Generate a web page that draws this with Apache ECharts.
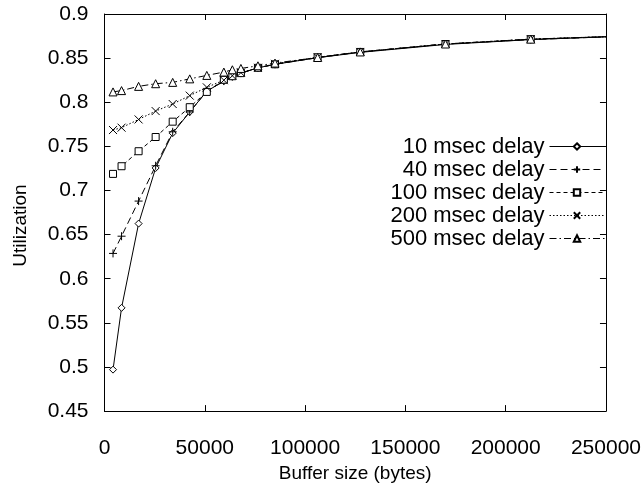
<!DOCTYPE html>
<html>
<head>
<meta charset="utf-8">
<script src="https://cdn.jsdelivr.net/npm/echarts@6/dist/echarts.min.js"></script>
<style>
html,body{margin:0;padding:0;background:#fff;}
#c{width:644px;height:488px;}
</style>
</head>
<body>
<div id="c"></div>
<script>
// Buffer sizes (bytes)
var bufferSizes = [4250, 8500, 17000, 25500, 34000, 42500, 51000, 59500, 63750, 68000, 76500, 85000, 106250, 127500, 170000, 212500, 255000];
var seriesNames = ['10 msec delay', '40 msec delay', '100 msec delay', '200 msec delay', '500 msec delay'];
var util10  = [0.497, 0.567, 0.6625, 0.7255, 0.765, 0.789, 0.8125, 0.824, 0.829, 0.833, 0.839, 0.843, 0.8505, 0.8565, 0.8655, 0.871, 0.8745];
var util40  = [0.6287, 0.6482, 0.688, 0.728, 0.7665, 0.789, 0.8125, 0.824, 0.829, 0.833, 0.839, 0.843, 0.8505, 0.857, 0.866, 0.871, 0.8745];
var util100 = [0.7188, 0.7275, 0.7445, 0.7606, 0.778, 0.7944, 0.8117, 0.8255, 0.8295, 0.833, 0.839, 0.843, 0.851, 0.857, 0.866, 0.8715, 0.8747];
var util200 = [0.7685, 0.7712, 0.7805, 0.790, 0.798, 0.8075, 0.8169, 0.825, 0.830, 0.8335, 0.839, 0.8435, 0.851, 0.857, 0.866, 0.8715, 0.8747];
var util500 = [0.8117, 0.8132, 0.818, 0.821, 0.8225, 0.8265, 0.8304, 0.8342, 0.8368, 0.8383, 0.8413, 0.8444, 0.8507, 0.857, 0.866, 0.8715, 0.8747];
var xTicks = [0, 50000, 100000, 150000, 200000, 250000];
var yTicks = [0.45, 0.5, 0.55, 0.6, 0.65, 0.7, 0.75, 0.8, 0.85, 0.9];

var allValues = [util10, util40, util100, util200, util500];
var symbols = ['diamond', 'path://M0,5L10,5M5,0L5,10', 'rect', 'path://M0,0L10,10M0,10L10,0', 'triangle'];
var symSizes = [7, 8, 7, 8, 8];
var dashes = ['solid', [7, 4], [4, 3], [1.5, 2], [7, 3, 1.5, 3]];
var hollowFill = ['#fff', 'transparent', '#fff', 'transparent', '#fff'];
var FONT = 'Liberation Sans, Arial, sans-serif';

function pairs(xs, ys) { return xs.map(function (x, i) { return [x, ys[i]]; }); }

var series = seriesNames.map(function (name, i) {
  return {
    name: name,
    type: 'line',
    data: pairs(bufferSizes, allValues[i]),
    symbol: symbols[i],
    symbolSize: symSizes[i],
    showAllSymbol: true,
    clip: true,
    lineStyle: { color: '#000', width: 1, type: dashes[i] },
    itemStyle: { color: hollowFill[i], borderColor: '#000', borderWidth: 1 },
    emphasis: { disabled: true }
  };
});

var chart = echarts.init(document.getElementById('c'), null, { renderer: 'canvas' });
chart.setOption({
  animation: false,
  backgroundColor: '#fff',
  textStyle: { fontFamily: FONT },
  grid: { left: 104.5, right: 38, top: 14, bottom: 74.3, containLabel: false },
  legend: {
    data: seriesNames,
    orient: 'vertical',
    align: 'right',
    right: 34,
    top: 130.5,
    itemWidth: 55,
    itemHeight: 8,
    itemGap: 1,
    lineStyle: { width: 1 },
    textStyle: { fontFamily: FONT, fontSize: 22, color: '#000', lineHeight: 22 },
    inactiveColor: '#000'
  },
  xAxis: [{
    type: 'value',
    min: 0, max: 250000, interval: 50000,
    name: 'Buffer size (bytes)',
    nameLocation: 'middle',
    nameGap: 44,
    nameTextStyle: { fontFamily: FONT, fontSize: 19, color: '#000' },
    axisLine: { show: true, onZero: false, lineStyle: { color: '#000', width: 1 } },
    axisTick: { show: true, inside: true, length: 6, lineStyle: { color: '#000' } },
    axisLabel: { fontFamily: FONT, fontSize: 21, color: '#000', margin: 27,
      formatter: function (v) { return xTicks.indexOf(v) >= 0 ? String(v) : ''; } },
    splitLine: { show: false }
  }, {
    type: 'value', position: 'top',
    min: 0, max: 250000, interval: 50000,
    axisLine: { show: true, onZero: false, lineStyle: { color: '#000', width: 1 } },
    axisTick: { show: true, inside: true, length: 6, lineStyle: { color: '#000' } },
    axisLabel: { show: false },
    splitLine: { show: false }
  }],
  yAxis: [{
    type: 'value',
    min: 0.45, max: 0.9, interval: 0.05,
    name: 'Utilization',
    nameLocation: 'middle',
    nameGap: 74,
    nameTextStyle: { fontFamily: FONT, fontSize: 19, color: '#000', padding: [0, 26, 0, 0] },
    axisLine: { show: true, onZero: false, lineStyle: { color: '#000', width: 1 } },
    axisTick: { show: true, inside: true, length: 6, lineStyle: { color: '#000' } },
    axisLabel: { fontFamily: FONT, fontSize: 21, color: '#000', margin: 16,
      formatter: function (v) { return String(+v.toFixed(2)); } },
    splitLine: { show: false }
  }, {
    type: 'value', position: 'right',
    min: 0.45, max: 0.9, interval: 0.05,
    axisLine: { show: true, onZero: false, lineStyle: { color: '#000', width: 1 } },
    axisTick: { show: true, inside: true, length: 6, lineStyle: { color: '#000' } },
    axisLabel: { show: false },
    splitLine: { show: false }
  }],
  series: series
});
</script>
</body>
</html>
